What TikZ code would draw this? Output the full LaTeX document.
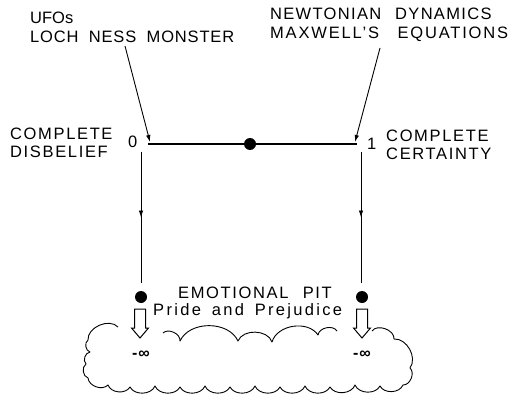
\documentclass[tikz,border=0pt]{standalone}
\usepackage{fontspec}
\setmainfont{Liberation Sans}[LetterSpace=12]
\usetikzlibrary{arrows.meta,decorations.markings}
\newcommand{\ls}[1]{\addfontfeatures{LetterSpace=#1}}
\begin{document}
\begin{tikzpicture}[x=1pt,y=-1pt,
  lbl/.style={inner sep=0pt, anchor=base west, font=\fontsize{16.5}{19}\selectfont},
  thin/.style={line width=0.9pt},
  tip/.style={-{Latex[length=7pt,width=4.5pt]}},
  midarrow/.style={thin, postaction={decorate}, decoration={markings,
      mark=at position 0.5 with {\arrow{Latex[length=7pt,width=4.5pt]}}}},
  dot/.style={circle, fill=black, inner sep=0pt, minimum size=12pt},
  hollow/.style={line width=1pt, fill=white},
  cloudline/.style={line width=0.9pt, line join=round},
  inflbl/.style={inner sep=0pt, font=\fontsize{16}{18}\selectfont\bfseries\ls{5}}]
\useasboundingbox (0,0) rectangle (518,395);

% top texts
\node[lbl] (ufo) at (30,24) {\ls{0}UFOs};
\node[lbl] (loch) at (30,43) {\ls{5}LOCH\hspace{5pt} NESS\hspace{5pt} MONSTER};
\node[lbl] (newt) at (270,20) {\ls{8}NEWTONIAN\hspace{8pt} DYNAMICS};
\node[lbl] (maxw) at (270,39) {\ls{11}MAXWELL'S\hspace{12pt} EQUATIONS};

% side texts
\node[lbl] (cl1) at (10,140) {\ls{10}COMPLETE};
\node[lbl] (cl2) at (10,158) {\ls{10}DISBELIEF};
\node[lbl] (zero) at (128,148) {0};
\node[lbl] (one) at (367,150) {1};
\node[lbl] (cr1) at (386,142) {\ls{10}COMPLETE};
\node[lbl] (cr2) at (386,160) {\ls{10}CERTAINTY};

% belief line
\coordinate (a0) at (148,144);
\coordinate (a1) at (357,144);
\draw[line width=2.3pt] (a0) -- (a1);
\node[dot] (mid) at (250,144) {};

% pointers from examples
\coordinate (lochpt) at (125,46);
\coordinate (maxpt) at (380,48);
\coordinate (lefttip) at (150,142);
\coordinate (righttip) at (355,142);
\draw[thin, tip] (lochpt) -- (lefttip);
\draw[thin, tip] (maxpt) -- (righttip);

% drops to the pit
\coordinate (vl0) at (141,152);
\coordinate (vr0) at (361,152);
\node[dot] (dl) at (141,297) {};
\node[dot] (dr) at (362,297) {};
\coordinate (vl1) at (141,283);
\coordinate (vr1) at (361,283);
\draw[midarrow] (vl0) -- (vl1);
\draw[midarrow] (vr0) -- (vr1);

% pit text
\node[lbl] (emo) at (178,298) {\ls{10}EMOTIONAL\hspace{8pt} PIT};
\node[lbl] (pride) at (153,315) {\ls{14}Pride\hspace{4pt} and\hspace{4pt} Prejudice};

% cloud
\draw[cloudline] (163,333) to[bend left=70] (180,341) to[bend left=65] (238,341)
  to[bend left=70] (272,342) to[bend left=65] (318,335) to[bend left=70] (337,331);
\draw[cloudline] (372,331) to[bend left=75] (394,339) to[bend left=65] (410,368)
  to[bend left=70] (403,385) to[bend left=65] (380,386) to[bend left=65] (355,385)
  to[bend left=65] (330,387) to[bend left=65] (305,386) to[bend left=65] (280,387)
  to[bend left=65] (255,386) to[bend left=65] (230,387) to[bend left=65] (205,386)
  to[bend left=65] (180,387) to[bend left=65] (155,386) to[bend left=65] (130,387)
  to[bend left=65] (108,385) to[bend left=65] (88,378) to[bend left=65] (86,364)
  to[bend left=65] (90,352) to[bend left=65] (88,340) to[bend left=70] (118,327);

% hollow arrows
\foreach \cx/\nm in {140/hl, 362/hr}{
  \draw[hollow] (\cx-5.5,309) -- (\cx+5.5,309) -- (\cx+5.5,328) -- (\cx+8.5,328)
    -- (\cx,338) -- (\cx-8.5,328) -- (\cx-5.5,328) -- cycle;
}

% minus infinity
\node[inflbl] (infl) at (141,355) {-∞};
\node[inflbl] (infr) at (362,355) {-∞};
\end{tikzpicture}
\end{document}
